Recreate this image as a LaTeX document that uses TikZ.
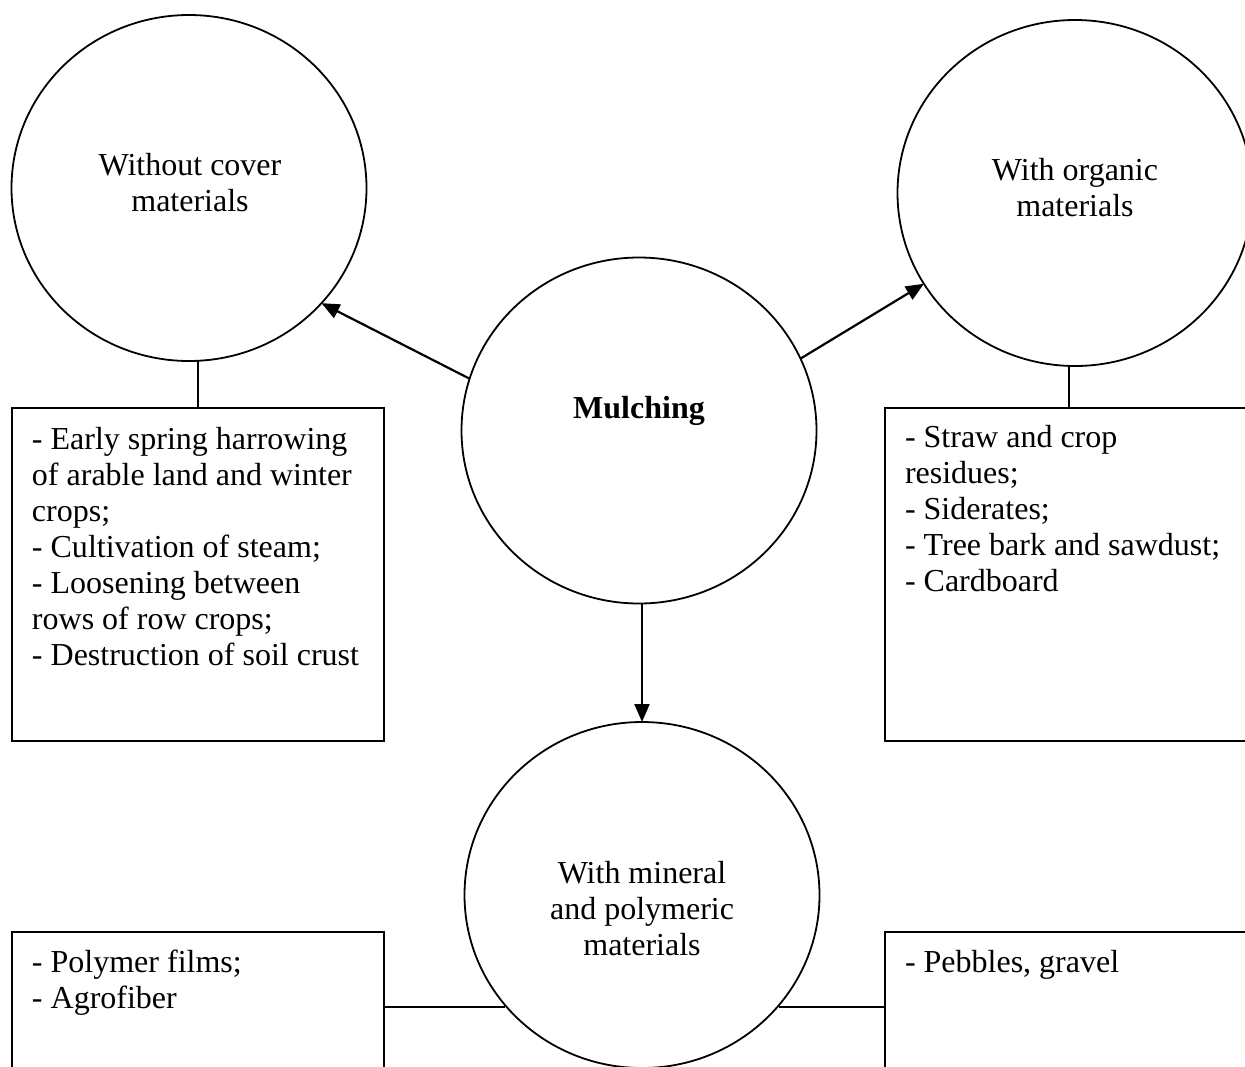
\documentclass[tikz,border=0pt]{standalone}
\usepackage{fontspec}
\setmainfont{Liberation Serif}
\usetikzlibrary{shapes.geometric,arrows.meta}
\begin{document}
\begin{tikzpicture}[x=0.5pt,y=-0.5pt,
  every node/.style={font=\fontsize{16}{18}\selectfont},
  circ/.style={draw, ellipse, minimum width=177.5pt, minimum height=173pt, inner sep=0pt, outer sep=0pt, line width=0.9pt},
  box/.style={draw, rectangle, inner sep=0pt, outer sep=0pt, line width=0.9pt},
  txt/.style={inner sep=0pt, outer sep=0pt},
  arr/.style={line width=1.1pt, -{Triangle[length=9pt,width=7.5pt]}},
  conn/.style={line width=0.9pt}]
\useasboundingbox (0,0) rectangle (1245,1066);
\clip (0,0) rectangle (1245,1066);

% ellipses
\node[circ] (tl) at (189,188) {};
\node[circ] (tr) at (1075,193) {};
\node[circ] (m) at (639,430.5) {};
\node[circ] (bc) at (642,895) {};

% boxes
\node[box, minimum width=186pt, minimum height=166.5pt] (lbox) at (198,574.5) {};
\node[box, minimum width=190pt, minimum height=166.5pt] (rbox) at (1075,574.5) {};
\node[box, minimum width=186pt, minimum height=75pt] (lbbox) at (198,1007) {};
\node[box, minimum width=190pt, minimum height=75pt] (rbbox) at (1075,1007) {};

% texts
\node[txt, anchor=base] (tlt) at (190,175) {\begin{tabular}[t]{@{}c@{}}Without cover\\materials\end{tabular}};
\node[txt, anchor=base] (trt) at (1075,180) {\begin{tabular}[t]{@{}c@{}}With organic\\materials\end{tabular}};
\node[txt, anchor=base] (mt) at (639,418) {\bfseries Mulching};
\node[txt, anchor=base] (bct) at (642,883) {\begin{tabular}[t]{@{}c@{}}With mineral\\and polymeric\\materials\end{tabular}};

\node[txt, anchor=base west] (lboxt) at (32,449) {\begin{tabular}[t]{@{}l@{}}- Early spring harrowing\\of arable land and winter\\crops;\\- Cultivation of steam;\\- Loosening between\\rows of row crops;\\- Destruction of soil crust\end{tabular}};
\node[txt, anchor=base west] (rboxt) at (905,447) {\begin{tabular}[t]{@{}l@{}}- Straw and crop\\residues;\\- Siderates;\\- Tree bark and sawdust;\\- Cardboard\end{tabular}};
\node[txt, anchor=base west] (lbboxt) at (32,972) {\begin{tabular}[t]{@{}l@{}}- Polymer films;\\- Agrofiber\end{tabular}};
\node[txt, anchor=base west] (rbboxt) at (905,972) {- Pebbles, gravel};

% connectors
\draw[conn] (lbox.north) -- (lbox.north |- tl.south);
\draw[conn] ([xshift=-3pt]rbox.north) -- ([xshift=-3pt]rbox.north |- tr.south);
\draw[conn] (lbbox.east) -- (lbbox.east -| bc.219.6);
\draw[conn] (rbbox.west -| bc.-39.6) -- (rbbox.west);

% arrows
\draw[arr] (m.163) -- (tl.-41.4);
\draw[arr] (m.24.6) -- (tr.211);
\draw[arr] (bc.north |- m.south) -- (bc.north);
\end{tikzpicture}
\end{document}
